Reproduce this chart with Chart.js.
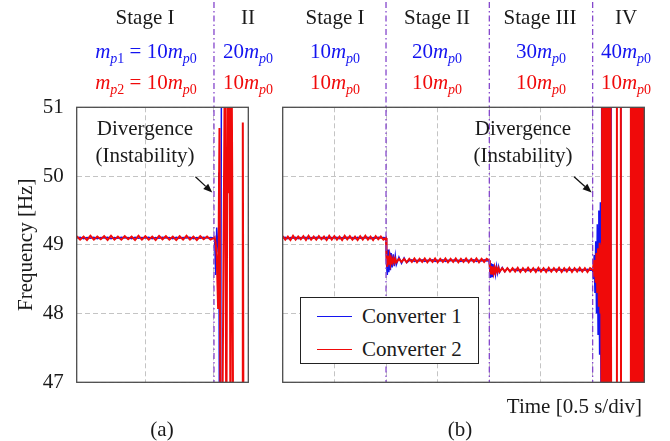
<!DOCTYPE html>
<html>
<head>
<meta charset="utf-8">
<script src="https://cdn.jsdelivr.net/npm/chart.js@4.4.0/dist/chart.umd.min.js"></script>
<style>
html, body { margin: 0; padding: 0; background: #fff; }
#wrap { position: relative; width: 670px; height: 441px; overflow: hidden;
        font-family: 'Liberation Serif', 'Times New Roman', serif; color: #1a1a1a; }
canvas { position: absolute; left: 0; top: 0; }
.lbl { position: absolute; font-size: 21px; line-height: 21px; white-space: nowrap; transform: translateX(-50%); }
.blue { color: #1414f0; }
.red { color: #f00a0a; }
.s { font-size: 14px; line-height: 0; position: relative; top: 5px; }
#legend { position: absolute; left: 300px; top: 297px; width: 177px; height: 65px;
          border: 1.3px solid #222; background: #fff; }
#legend .ln { position: absolute; left: 16px; width: 35px; height: 0; border-top: 1.3px solid; }
#legend .tx { position: absolute; left: 61px; font-size: 21px; line-height: 21px; white-space: nowrap; }
</style>
</head>
<body>
<div id="wrap">
  <canvas id="chartA" width="670" height="441" style="width:670px;height:441px"></canvas>
  <canvas id="chartB" width="670" height="441" style="width:670px;height:441px"></canvas>

  <!-- stage headers -->
  <div class="lbl" style="left:145px;top:7px">Stage I</div>
  <div class="lbl" style="left:248px;top:7px">II</div>
  <div class="lbl" style="left:335px;top:7px">Stage I</div>
  <div class="lbl" style="left:437px;top:7px">Stage II</div>
  <div class="lbl" style="left:540px;top:7px">Stage III</div>
  <div class="lbl" style="left:626px;top:7px">IV</div>

  <div class="lbl blue" style="left:146px;top:41px"><i>m</i><span class="s"><i>p</i>1</span> = 10<i>m</i><span class="s"><i>p</i>0</span></div>
  <div class="lbl blue" style="left:248px;top:41px">20<i>m</i><span class="s"><i>p</i>0</span></div>
  <div class="lbl blue" style="left:335px;top:41px">10<i>m</i><span class="s"><i>p</i>0</span></div>
  <div class="lbl blue" style="left:437px;top:41px">20<i>m</i><span class="s"><i>p</i>0</span></div>
  <div class="lbl blue" style="left:541px;top:41px">30<i>m</i><span class="s"><i>p</i>0</span></div>
  <div class="lbl blue" style="left:626px;top:41px">40<i>m</i><span class="s"><i>p</i>0</span></div>

  <div class="lbl red" style="left:146px;top:72px"><i>m</i><span class="s"><i>p</i>2</span> = 10<i>m</i><span class="s"><i>p</i>0</span></div>
  <div class="lbl red" style="left:248px;top:72px">10<i>m</i><span class="s"><i>p</i>0</span></div>
  <div class="lbl red" style="left:335px;top:72px">10<i>m</i><span class="s"><i>p</i>0</span></div>
  <div class="lbl red" style="left:437px;top:72px">10<i>m</i><span class="s"><i>p</i>0</span></div>
  <div class="lbl red" style="left:541px;top:72px">10<i>m</i><span class="s"><i>p</i>0</span></div>
  <div class="lbl red" style="left:626px;top:72px">10<i>m</i><span class="s"><i>p</i>0</span></div>

  <!-- annotations -->
  <div class="lbl" style="left:145px;top:118px">Divergence</div>
  <div class="lbl" style="left:145px;top:145px">(Instability)</div>
  <div class="lbl" style="left:523px;top:118px">Divergence</div>
  <div class="lbl" style="left:523px;top:145px">(Instability)</div>

  <div id="legend">
    <div class="ln" style="top:18px;border-color:#1414f0"></div>
    <div class="tx" style="top:8px">Converter 1</div>
    <div class="ln" style="top:51px;border-color:#f00a0a"></div>
    <div class="tx" style="top:41px">Converter 2</div>
  </div>

  <div class="lbl" style="left:auto;right:28px;top:396px;transform:none">Time [0.5 s/div]</div>
  <div class="lbl" style="left:162px;top:419px">(a)</div>
  <div class="lbl" style="left:460px;top:419px">(b)</div>
</div>

<script>
const FONT = "'Liberation Serif', 'Times New Roman', serif";
const INK = "#1a1a1a";
const BLUE = "#1414f0";
const RED = "#f00a0a";
const PURPLE = "#8547cc";
const GRID = "#c4c4c4";

// y axis ticks (Hz), shared by both panels
const yTicks = [47, 48, 49, 50, 51];

// ---- panel (a): time in divisions, frequency in Hz ----
const timeA = [
    0, 0.05, 0.1, 0.15, 0.2, 0.25, 0.3, 0.35, 0.4, 0.45,
    0.5, 0.55, 0.6, 0.65, 0.7, 0.75, 0.8, 0.85, 0.9, 0.95,
    1, 1.05, 1.1, 1.15, 1.2, 1.25, 1.3, 1.35, 1.4, 1.45,
    1.5, 1.55, 1.6, 1.65, 1.7, 1.75, 1.8, 1.85, 1.9, 1.95,
    2,
    2.01, 2.025, 2.04, 2.06, 2.07, 2.08, 2.095, 2.11, 2.12, 2.16,
    2.18, 2.2, 2.215, 2.225, 2.24, 2.255, 2.265, 2.28, 2.41, 2.42,
    2.43, 2.5
];
const conv1A = [
    49.10, 49.11, 49.09, 49.105, 49.095, 49.11, 49.09, 49.105, 49.10, 49.11,
    49.09, 49.105, 49.095, 49.11, 49.10, 49.105, 49.09, 49.11, 49.095, 49.105,
    49.10, 49.11, 49.09, 49.105, 49.095, 49.11, 49.10, 49.105, 49.09, 49.11,
    49.095, 49.105, 49.10, 49.11, 49.09, 49.105, 49.095, 49.11, 49.10, 49.105,
    49.10,
    49.08, 48.56, 49.25, 48.9, 50.05, 46, 46, 52, 53, 53,
    53, 53, 53, 53, 53, 53, 53, 53, 53, 53,
    53, 53
];
const conv2A = [
    49.125, 49.075, 49.12, 49.07, 49.13, 49.075, 49.12, 49.08, 49.125, 49.07,
    49.13, 49.075, 49.12, 49.075, 49.125, 49.08, 49.12, 49.07, 49.13, 49.075,
    49.125, 49.075, 49.12, 49.07, 49.13, 49.08, 49.125, 49.075, 49.12, 49.07,
    49.125, 49.075, 49.13, 49.075, 49.12, 49.07, 49.125, 49.08, 49.12, 49.075,
    49.10,
    49.11, 49.02, 48.85, 48.08, 49.4, 50.7, 46, 46, 46, 52,
    46, 52, 49.75, 52, 46, 52, 50.15, 46, 46, 50.78,
    46, 46
];
const stageEdgesA = [2];

// ---- panel (b) ----
const timeB = [
    // stage I
    0, 0.05, 0.1, 0.15, 0.2, 0.25, 0.3, 0.35, 0.4, 0.45,
    0.5, 0.55, 0.6, 0.65, 0.7, 0.75, 0.8, 0.85, 0.9, 0.95,
    1, 1.05, 1.1, 1.15, 1.2, 1.25, 1.3, 1.35, 1.4, 1.45,
    1.5, 1.55, 1.6, 1.65, 1.7, 1.75, 1.8, 1.85, 1.9, 1.95,
    2,
    // stage II
    2.01, 2.025, 2.04, 2.055, 2.07, 2.085, 2.1, 2.12, 2.14, 2.16,
    2.18, 2.2, 2.25, 2.3, 2.35, 2.4,
    2.45, 2.5, 2.55, 2.6, 2.65, 2.7, 2.75, 2.8, 2.85, 2.9,
    2.95, 3, 3.05, 3.1, 3.15, 3.2, 3.25, 3.3, 3.35, 3.4,
    3.45, 3.5, 3.55, 3.6, 3.65, 3.7, 3.75, 3.8, 3.85, 3.9,
    3.95, 4,
    // stage III
    4.01, 4.025, 4.04, 4.055, 4.07, 4.085, 4.1, 4.12, 4.14, 4.16,
    4.18, 4.2, 4.25, 4.3, 4.35, 4.4,
    4.45, 4.5, 4.55, 4.6, 4.65, 4.7, 4.75, 4.8, 4.85, 4.9,
    4.95, 5, 5.05, 5.1, 5.15, 5.2, 5.25, 5.3, 5.35, 5.4,
    5.45, 5.5, 5.55, 5.6, 5.65, 5.7, 5.75, 5.8, 5.85, 5.9,
    5.95, 6,
    // stage IV (divergence)
    6.015, 6.03, 6.045, 6.06, 6.075, 6.09, 6.105, 6.12, 6.135, 6.15,
    6.165,
    6.175, 6.185, 6.195, 6.205, 6.215, 6.225, 6.24, 6.255, 6.27, 6.285,
    6.3, 6.315, 6.33, 6.345, 6.36, 6.37,
    6.465, 6.47, 6.545, 6.55,
    6.73, 6.74, 6.75, 6.76, 6.77, 6.78, 6.79, 6.8, 6.81, 6.82,
    6.83, 6.845, 6.86, 6.875, 6.89, 6.9, 6.91, 6.92, 6.93, 6.94,
    6.95, 6.96, 6.97, 6.98, 6.99, 7
];
const conv1B = [
    49.10, 49.11, 49.09, 49.105, 49.095, 49.11, 49.09, 49.105, 49.10, 49.11,
    49.09, 49.105, 49.095, 49.11, 49.10, 49.105, 49.09, 49.11, 49.095, 49.105,
    49.10, 49.11, 49.09, 49.105, 49.095, 49.11, 49.10, 49.105, 49.09, 49.11,
    49.095, 49.105, 49.10, 49.11, 49.09, 49.105, 49.095, 49.11, 49.10, 49.105,
    49.10,
    48.72, 48.56, 48.93, 48.6, 48.9, 48.63, 48.88, 48.67, 48.86, 48.69,
    48.84, 48.71, 48.82, 48.73, 48.81, 48.74,
    48.77, 48.78, 48.76, 48.775, 48.765, 48.78, 48.76, 48.775, 48.77, 48.78,
    48.76, 48.775, 48.765, 48.78, 48.76, 48.775, 48.77, 48.78, 48.765, 48.775,
    48.76, 48.78, 48.765, 48.775, 48.77, 48.78, 48.76, 48.775, 48.765, 48.78,
    48.765, 48.77,
    48.6, 48.52, 48.73, 48.54, 48.72, 48.56, 48.7, 48.57, 48.69, 48.59,
    48.68, 48.6, 48.67, 48.61, 48.66, 48.62,
    48.635, 48.645, 48.625, 48.64, 48.63, 48.645, 48.625, 48.64, 48.635, 48.645,
    48.625, 48.64, 48.63, 48.645, 48.625, 48.64, 48.635, 48.645, 48.63, 48.64,
    48.625, 48.645, 48.63, 48.64, 48.635, 48.645, 48.625, 48.64, 48.63, 48.645,
    48.63, 48.635,
    48.5, 48.85, 48.3, 49.05, 48.0, 49.3, 47.7, 49.5, 47.4, 49.62,
    46,
    52, 46, 52, 46, 52, 46, 52, 46, 52, 46,
    52, 46, 52, 46, 52, 52,
    52, 52, 52, 46,
    46, 48.5, 46, 52, 52, 49.98, 52, 52, 52, 52,
    52, 52, 52, 52, 52, 52, 52, 52, 52, 52,
    52, 48.67, 52, 52, 52, 52
];
const conv2B = [
    49.125, 49.075, 49.12, 49.07, 49.13, 49.075, 49.12, 49.08, 49.125, 49.07,
    49.13, 49.075, 49.12, 49.075, 49.125, 49.08, 49.12, 49.07, 49.13, 49.075,
    49.125, 49.075, 49.12, 49.07, 49.13, 49.08, 49.125, 49.075, 49.12, 49.07,
    49.125, 49.075, 49.13, 49.075, 49.12, 49.07, 49.125, 49.08, 49.12, 49.075,
    49.10,
    48.82, 48.68, 48.84, 48.71, 48.82, 48.73, 48.8, 48.74, 48.8, 48.745,
    48.795, 48.745, 48.795, 48.75, 48.795, 48.745,
    48.795, 48.75, 48.8, 48.745, 48.795, 48.75, 48.8, 48.745, 48.795, 48.75,
    48.8, 48.745, 48.795, 48.75, 48.8, 48.745, 48.795, 48.75, 48.8, 48.745,
    48.795, 48.75, 48.8, 48.745, 48.795, 48.75, 48.8, 48.745, 48.795, 48.75,
    48.795, 48.77,
    48.68, 48.57, 48.69, 48.58, 48.68, 48.6, 48.67, 48.6, 48.66, 48.61,
    48.66, 48.61, 48.66, 48.61, 48.66, 48.61,
    48.66, 48.61, 48.665, 48.605, 48.66, 48.61, 48.665, 48.61, 48.66, 48.605,
    48.665, 48.61, 48.66, 48.605, 48.665, 48.61, 48.66, 48.61, 48.665, 48.605,
    48.66, 48.61, 48.665, 48.605, 48.66, 48.61, 48.665, 48.61, 48.66, 48.605,
    48.66, 48.635,
    48.7, 48.55, 48.78, 48.45, 48.88, 48.3, 48.95, 48.1, 49.03, 48.0,
    49.0,
    46, 52, 46, 52, 46, 52, 46, 52, 46, 52,
    46, 52, 46, 52, 46, 46,
    46, 52, 52, 46,
    46, 52, 46, 52, 46, 52, 46, 52, 46, 52,
    46, 52, 46, 52, 46, 52, 46, 52, 46, 52,
    46, 52, 46, 52, 46, 52
];
const stageEdgesB = [2, 4, 6];

function makePoints(t, v) {
    if (t.length !== v.length) console.warn("length mismatch", t.length, v.length);
    return t.map((x, i) => ({ x: x, y: v[i] }));
}

// stage boundaries, arrow and plot frame
const panelPlugin = {
    id: "panel",
    afterDatasetsDraw(chart, args, opts) {
        const { ctx, chartArea: a, scales: { x, y } } = chart;

        ctx.save();
        ctx.strokeStyle = PURPLE;
        ctx.lineWidth = 1.3;
        ctx.setLineDash([6, 3, 1.5, 3]);
        opts.edges.forEach(e => {
            const px = x.getPixelForValue(e);
            ctx.beginPath();
            ctx.moveTo(px, 2);
            ctx.lineTo(px, a.bottom);
            ctx.stroke();
        });
        ctx.restore();

        // arrow pointing at the divergence
        const fx = x.getPixelForValue(opts.arrow.from[0]), fy = y.getPixelForValue(opts.arrow.from[1]);
        const tx = x.getPixelForValue(opts.arrow.to[0]), ty = y.getPixelForValue(opts.arrow.to[1]);
        const ang = Math.atan2(ty - fy, tx - fx);
        const hl = 9, hw = 3.6;
        const bx = tx - hl * Math.cos(ang), by = ty - hl * Math.sin(ang);
        ctx.save();
        ctx.strokeStyle = "#111";
        ctx.fillStyle = "#111";
        ctx.lineWidth = 1.3;
        ctx.beginPath();
        ctx.moveTo(fx, fy);
        ctx.lineTo(bx, by);
        ctx.stroke();
        ctx.beginPath();
        ctx.moveTo(tx, ty);
        ctx.lineTo(bx + hw * Math.sin(ang), by - hw * Math.cos(ang));
        ctx.lineTo(bx - hw * Math.sin(ang), by + hw * Math.cos(ang));
        ctx.closePath();
        ctx.fill();
        ctx.restore();

        ctx.save();
        ctx.strokeStyle = "#4d4d4d";
        ctx.lineWidth = 1.3;
        ctx.strokeRect(a.left, a.top, a.right - a.left, a.bottom - a.top);
        ctx.restore();
    }
};

function lineSet(label, pts, color, order, width) {
    return {
        label: label,
        data: pts,
        borderColor: color,
        borderWidth: width,
        pointRadius: 0,
        tension: 0,
        fill: false,
        clip: 0,
        order: order
    };
}

function panelOptions(p) {
    return {
        responsive: false,
        animation: false,
        devicePixelRatio: 1,
        events: [],
        layout: { padding: p.padding },
        plugins: {
            legend: { display: false },
            tooltip: { enabled: false },
            panel: { edges: p.edges, arrow: p.arrow }
        },
        scales: {
            x: {
                type: "linear",
                min: 0,
                max: p.xMax,
                ticks: { display: false, stepSize: 1 },
                grid: { color: GRID, lineWidth: 1, drawTicks: false },
                border: { display: false, dash: [5, 3] },
                afterFit: s => { s.height = 0; }
            },
            y: {
                type: "linear",
                min: 47,
                max: 51,
                afterBuildTicks: s => { s.ticks = yTicks.map(v => ({ value: v })); },
                ticks: {
                    display: p.showY,
                    padding: 13,
                    color: INK,
                    font: { family: FONT, size: 21 }
                },
                grid: { color: GRID, lineWidth: 1, drawTicks: false },
                border: { display: false, dash: [5, 3] },
                title: {
                    display: p.showY,
                    text: "Frequency [Hz]",
                    color: INK,
                    font: { family: FONT, size: 21 },
                    padding: { top: 14, bottom: 0 }
                },
                afterFit: s => { s.width = p.yWidth; }
            }
        }
    };
}

new Chart(document.getElementById("chartA"), {
    type: "line",
    data: {
        datasets: [
            lineSet("Converter 2", makePoints(timeA, conv2A), RED, 1, 2),
            lineSet("Converter 1", makePoints(timeA, conv1A), BLUE, 2, 1.5)
        ]
    },
    options: panelOptions({
        xMax: 2.5,
        showY: true,
        yWidth: 76.7,
        padding: { left: 0, right: 421.7, top: 107.3, bottom: 58.7 },
        edges: stageEdgesA,
        arrow: { from: [1.73, 49.99], to: [1.975, 49.76] }
    }),
    plugins: [panelPlugin]
});

new Chart(document.getElementById("chartB"), {
    type: "line",
    data: {
        datasets: [
            lineSet("Converter 2", makePoints(timeB, conv2B), RED, 1, 2),
            lineSet("Converter 1", makePoints(timeB, conv1B), BLUE, 2, 1.5)
        ]
    },
    options: panelOptions({
        xMax: 7,
        showY: false,
        yWidth: 0,
        padding: { left: 282.7, right: 25.7, top: 107.3, bottom: 58.7 },
        edges: stageEdgesB,
        arrow: { from: [5.64, 49.99], to: [5.98, 49.76] }
    }),
    plugins: [panelPlugin]
});
</script>
</body>
</html>
